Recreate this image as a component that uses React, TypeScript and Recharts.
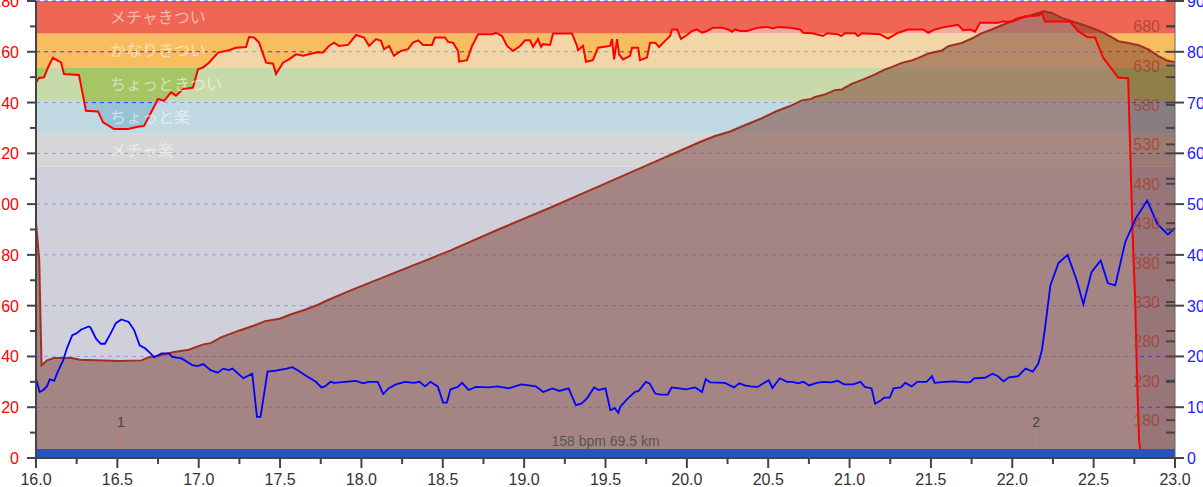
import React from 'react';
import { ComposedChart, Area, Line, XAxis, YAxis, CartesianGrid, ReferenceArea, ReferenceLine } from 'recharts';

// heart rate (bpm) against distance (km)
const hrKm = [
  16.0, 16.018, 16.049, 16.074, 16.104, 16.135, 16.154, 16.172, 16.264, 16.307, 16.381, 16.412, 16.479, 16.565,
  16.627, 16.664, 16.707, 16.75, 16.787, 16.83, 16.86, 16.904, 16.965, 16.996, 17.026, 17.063, 17.119, 17.186,
  17.229, 17.291, 17.309, 17.34, 17.371, 17.414, 17.457, 17.475, 17.518, 17.555, 17.598, 17.641, 17.721, 17.764,
  17.801, 17.832, 17.862, 17.918, 17.967, 18.016, 18.047, 18.09, 18.12, 18.139, 18.17, 18.2, 18.243, 18.286,
  18.317, 18.348, 18.379, 18.434, 18.452, 18.514, 18.532, 18.563, 18.594, 18.6, 18.649, 18.68, 18.717, 18.803,
  18.827, 18.864, 18.895, 18.932, 18.975, 19.006, 19.036, 19.055, 19.085, 19.104, 19.116, 19.159, 19.178, 19.294,
  19.325, 19.331, 19.362, 19.38, 19.423, 19.454, 19.528, 19.54, 19.553, 19.571, 19.583, 19.608, 19.651, 19.663,
  19.7, 19.712, 19.755, 19.774, 19.805, 19.829, 19.866, 19.897, 19.909, 19.94, 19.964, 20.001, 20.032, 20.063,
  20.093, 20.124, 20.161, 20.216, 20.253, 20.278, 20.296, 20.327, 20.37, 20.438, 20.493, 20.53, 20.56, 20.634,
  20.696, 20.714, 20.77, 20.837, 20.862, 20.929, 20.948, 20.972, 21.034, 21.052, 21.077, 21.187, 21.237, 21.298,
  21.36, 21.452, 21.483, 21.525, 21.587, 21.667, 21.698, 21.741, 21.771, 21.802, 21.913, 21.943, 21.974, 22.005,
  22.079, 22.159, 22.183, 22.201, 22.355, 22.404, 22.46, 22.509, 22.558, 22.65, 22.712, 22.724, 22.736, 22.743,
  22.755, 22.767, 22.779, 22.792,
];
const hrBpm = [
  147.9, 149.7, 149.9, 153.8, 157.7, 156.4, 155.8, 151.2, 150.9, 136.8, 136.5, 132.2, 129.6, 129.6,
  130.5, 130.8, 136.1, 141.4, 140.7, 144, 142.7, 145.3, 145.9, 153.1, 153.8, 155.7, 159.7, 160.6,
  161.6, 161.9, 165.8, 165.6, 163.6, 155.7, 155.3, 151.2, 155.7, 157, 159, 158.4, 159.7, 159.7,
  162.3, 163.6, 162.3, 162.7, 166.6, 165.6, 162.3, 165, 164.3, 161, 162.3, 158.4, 160.3, 161,
  163.6, 164.5, 162.7, 162.7, 165.6, 165.6, 163.9, 163.6, 160.3, 156.1, 156.7, 162.3, 166.9, 166.9,
  167.5, 166.2, 162.3, 160.3, 162.3, 164.5, 164.5, 161.9, 165, 161.9, 163, 162.7, 167.2, 167.2,
  162.3, 160.6, 162.3, 156.1, 156.7, 161.6, 162.3, 165, 157, 165, 159, 157, 158.4, 161.6,
  161.6, 156.7, 157.7, 163.6, 163.6, 161.9, 164.3, 166.2, 168.8, 168.8, 165, 166.6, 168.2, 168.8,
  167.5, 168.2, 169.5, 169.5, 168.8, 167.9, 168.8, 168.2, 168.2, 169.5, 169.8, 169.2, 169.8, 169.5,
  168.8, 167.5, 167.3, 166.2, 167.3, 166.9, 166.2, 167.3, 167.3, 166.2, 167.3, 166.9, 165.2, 167.5,
  168.8, 168.8, 167.5, 168.8, 169.8, 170.6, 168.5, 168.8, 167.9, 171.4, 171.4, 172, 171.7, 172,
  174, 174.3, 175, 171.9, 171.9, 168.2, 165.8, 165.6, 157.7, 149.9, 149.6, 123, 95.5, 81.7,
  62, 30.7, 7, 0,
];

// elevation (m)
const eleKm = [
  16.0, 16.02, 16.029, 16.034, 16.068, 16.111, 16.221, 16.268, 16.514, 16.648, 16.693, 16.76, 16.849, 16.939,
  17.028, 17.073, 17.14, 17.251, 17.341, 17.408, 17.497, 17.564, 17.653, 17.721, 17.788, 17.93, 18.237, 18.545,
  18.852, 19.159, 19.466, 19.774, 20.081, 20.173, 20.266, 20.345, 20.45, 20.554, 20.634, 20.706, 20.757, 20.788,
  20.849, 20.91, 20.952, 21.013, 21.085, 21.157, 21.218, 21.259, 21.321, 21.382, 21.423, 21.484, 21.567, 21.607,
  21.69, 21.751, 21.802, 21.874, 21.935, 21.997, 22.037, 22.099, 22.14, 22.191, 22.243, 22.304, 22.366, 22.427,
  22.489, 22.55, 22.611, 22.652, 22.714, 22.775, 22.837, 22.898, 22.95, 23.0,
];
const eleM = [
  430, 383, 294, 249.6, 255.9, 258.8, 258.8, 256.8, 255.1, 255.9, 260, 262.2, 266.4, 269.5,
  276.2, 277.8, 285.4, 293.9, 300.2, 305.7, 308.7, 314.1, 320.1, 325.5, 331.9, 344.5, 369.8, 395.1,
  423, 449.6, 477.4, 505.3, 533.1, 540.7, 546.4, 553.4, 562.2, 572.4, 578.7, 585.9, 587.2, 590.1,
  593.5, 598.9, 599.8, 606.9, 612.5, 618.8, 625.1, 628.1, 633.5, 636.5, 639.9, 645.4, 649.2, 654.6,
  658.8, 664.4, 670.2, 675.8, 681.2, 686.3, 690.5, 692.6, 695.5, 698.9, 696.8, 690.5, 686.3, 682.1,
  677.8, 672.7, 666, 661, 658.8, 655.9, 650.5, 642, 636.5, 634.4,
];

// speed (km/h)
const spdKm = [
  16.0, 16.022, 16.045, 16.067, 16.085, 16.112, 16.134, 16.168, 16.19, 16.223, 16.246, 16.279, 16.324, 16.335,
  16.369, 16.398, 16.424, 16.458, 16.492, 16.525, 16.57, 16.603, 16.637, 16.67, 16.704, 16.726, 16.771, 16.816,
  16.838, 16.894, 16.961, 16.994, 17.028, 17.073, 17.117, 17.151, 17.184, 17.207, 17.274, 17.329, 17.358, 17.38,
  17.423, 17.474, 17.541, 17.575, 17.608, 17.664, 17.72, 17.754, 17.776, 17.81, 17.832, 17.899, 17.966, 18.011,
  18.044, 18.1, 18.134, 18.167, 18.212, 18.268, 18.323, 18.357, 18.391, 18.424, 18.469, 18.502, 18.525, 18.547,
  18.592, 18.618, 18.659, 18.703, 18.782, 18.837, 18.905, 18.983, 19.072, 19.117, 19.173, 19.217, 19.273, 19.318,
  19.352, 19.385, 19.43, 19.458, 19.5, 19.53, 19.557, 19.579, 19.591, 19.636, 19.68, 19.703, 19.748, 19.771,
  19.805, 19.838, 19.883, 19.906, 19.951, 19.996, 20.052, 20.093, 20.116, 20.143, 20.233, 20.289, 20.323, 20.356,
  20.39, 20.436, 20.47, 20.503, 20.526, 20.571, 20.616, 20.65, 20.683, 20.717, 20.751, 20.797, 20.841, 20.886,
  20.927, 20.966, 21.022, 21.067, 21.094, 21.135, 21.157, 21.191, 21.213, 21.247, 21.27, 21.315, 21.342, 21.382,
  21.416, 21.473, 21.507, 21.522, 21.585, 21.642, 21.72, 21.743, 21.765, 21.833, 21.878, 21.912, 21.946, 21.98,
  22.036, 22.081, 22.126, 22.16, 22.182, 22.205, 22.234, 22.284, 22.34, 22.396, 22.437, 22.487, 22.543, 22.588,
  22.633, 22.694, 22.757, 22.829, 22.892, 22.956, 23.0,
];
const spdKmh = [
  15.7, 13, 13.4, 14.1, 15.5, 15.2, 17, 19.3, 21.6, 24.2, 24.5, 25.3, 25.9, 25.7,
  23.5, 22.5, 22.5, 24.5, 26.6, 27.3, 26.8, 25.2, 22.2, 21.6, 20.6, 19.8, 20.6, 20.6,
  19.9, 19.6, 18.3, 18.1, 18.5, 17.3, 16.8, 17.6, 17.3, 17.6, 15.7, 16.6, 8.1, 8.1,
  17, 17.2, 17.6, 17.9, 17.3, 16.1, 15, 13.9, 14.1, 15, 14.8, 15, 15.2, 14.7,
  15, 15, 12.6, 13.7, 14.5, 15, 14.8, 15, 14.1, 15, 14.1, 10.9, 10.9, 13.5,
  14, 14.8, 13.4, 14, 13.9, 14.1, 13.7, 14.5, 14.1, 13, 13.7, 13.2, 13.7, 10.4,
  10.7, 11.7, 13.9, 13.4, 13.7, 9.4, 9.8, 8.9, 10.1, 11.7, 13, 13.2, 15, 14.7,
  12.7, 12.5, 12.5, 13.9, 13.7, 13.5, 13.9, 13, 15.5, 14.9, 14.8, 13.9, 14.7, 14.3,
  14.1, 14, 14.7, 15.3, 13.8, 15.7, 15, 15, 14.7, 15, 14.3, 14.8, 15, 14.9,
  15.2, 14.5, 14.5, 15, 14, 13.7, 10.7, 11.3, 11.9, 11.9, 13.7, 13.9, 14.8, 14.1,
  15, 15, 16.1, 14.8, 15, 15.1, 14.9, 15, 15.7, 15.8, 16.6, 16.1, 15.1, 15.9,
  16.1, 17.6, 17, 18.6, 21.2, 26.5, 34, 38.4, 40, 35, 30.3, 36.6, 38.9, 34.4,
  34, 42.5, 47.1, 50.7, 46.1, 44, 45.3,
];

// heart rate zones
const zoneNames = ['メチャ楽', 'ちょっと楽', 'ちょっときつい', 'かなりきつい', 'メチャきつい'];
const zoneLow = [114.8, 127.7, 140.6, 153.9, 167.2];
const zoneHigh = [127.7, 140.6, 153.9, 167.2, 180];
const zoneColors = ['#C1BCBC', '#97C3D4', '#A6C564', '#F8BD5E', '#F06655'];

// laps
const lapKm = [16.522, 22.146];
const lapNames = ['1', '2'];
const lapColors = ['#E07070', '#A09090'];

const summaryText = '158 bpm 69.5 km';

// axis ticks
const xTicks = [
  16, 16.25, 16.5, 16.75, 17, 17.25, 17.5, 17.75, 18, 18.25, 18.5, 18.75, 19, 19.25, 19.5, 19.75,
  20, 20.25, 20.5, 20.75, 21, 21.25, 21.5, 21.75, 22, 22.25, 22.5, 22.75, 23,
];
const hrTicks = [0, 10, 20, 30, 40, 50, 60, 70, 80, 90, 100, 110, 120, 130, 140, 150, 160, 170, 180];
const gridTicks = [20, 40, 60, 80, 100, 120, 140, 160, 180];
const eleTicks = [180, 230, 280, 330, 380, 430, 480, 530, 580, 630, 680];
const spdTicks = [0, 5, 10, 15, 20, 25, 30, 35, 40, 45, 50, 55, 60, 65, 70, 75, 80, 85, 90];

const hrData = hrKm.map((km, i) => ({ km, hr: hrBpm[i] }));
const eleData = eleKm.map((km, i) => ({ km, ele: eleM[i] }));
const spdData = spdKm.map((km, i) => ({ km, spd: spdKmh[i] }));

const XTick = (props: any) => {
  const { x, y, payload } = props;
  const v = payload.value;
  const major = Math.abs(v * 2 - Math.round(v * 2)) < 1e-6;
  return (
    <g>
      <line x1={x} x2={x} y1={y} y2={y + (major ? 10 : 6)} stroke="#444" strokeWidth={2} />
      {major && (
        <text x={x} y={y + 27} textAnchor="middle" fill="#333" fontSize={16}>
          {v.toFixed(1)}
        </text>
      )}
    </g>
  );
};

const HrTick = (props: any) => {
  const { x, y, payload } = props;
  const major = payload.value % 20 === 0;
  return (
    <g>
      <line x1={x - (major ? 9 : 6)} x2={x} y1={y} y2={y} stroke="#444" strokeWidth={2} />
      {major && (
        <text x={x - 17} y={y + 6} textAnchor="end" fill="#ff0000" fontSize={16}>
          {payload.value}
        </text>
      )}
    </g>
  );
};

const EleTick = (props: any) => {
  const { x, y, payload } = props;
  return (
    <g>
      <line x1={x - 9} x2={x} y1={y} y2={y} stroke="#444" strokeWidth={2} />
      <text x={x - 15} y={y + 6} textAnchor="end" fill="#A8402F" fillOpacity={0.8} fontSize={16}>
        {payload.value}
      </text>
    </g>
  );
};

const SpdTick = (props: any) => {
  const { x, y, payload } = props;
  const major = payload.value % 10 === 0;
  return (
    <g>
      <line x1={x - 9} x2={major ? x + 9 : x} y1={y} y2={y} stroke="#444" strokeWidth={2} />
      {major && (
        <text x={x + 12} y={y + 6} textAnchor="start" fill="#2020ff" fontSize={16}>
          {payload.value}
        </text>
      )}
    </g>
  );
};

export default function App() {
  return (
    <div style={{ position: 'absolute', left: 0, top: 0, width: 1203, height: 487, background: '#fff' }}>
      <ComposedChart
        width={1203}
        height={487}
        margin={{ top: 1, right: 0, bottom: 0, left: 0 }}
        style={{ fontFamily: '"Liberation Sans", "Noto Sans CJK JP", sans-serif' }}
      >
        <XAxis
          dataKey="km"
          type="number"
          domain={[16, 23]}
          ticks={xTicks}
          interval={0}
          height={29}
          tickSize={0}
          tickMargin={0}
          tick={<XTick />}
          axisLine={{ stroke: '#444', strokeWidth: 2 }}
          tickLine={false}
        />
        <YAxis
          yAxisId="hr"
          orientation="left"
          width={36}
          domain={[0, 180]}
          ticks={hrTicks}
          interval={0}
          tickSize={0}
          tickMargin={0}
          tick={<HrTick />}
          axisLine={{ stroke: '#444', strokeWidth: 2 }}
          tickLine={false}
        />
        <YAxis
          yAxisId="elev"
          orientation="right"
          mirror
          width={1}
          domain={[132, 712]}
          ticks={eleTicks}
          interval={0}
          tickSize={0}
          tickMargin={0}
          tick={<EleTick />}
          axisLine={false}
          tickLine={false}
        />
        <YAxis
          yAxisId="spd"
          orientation="right"
          width={28}
          domain={[0, 90]}
          ticks={spdTicks}
          interval={0}
          tickSize={0}
          tickMargin={0}
          tick={<SpdTick />}
          axisLine={{ stroke: '#666', strokeWidth: 1 }}
          tickLine={false}
        />

        <ReferenceArea yAxisId="hr" y1={0} y2={zoneLow[0]} fill="#B5B0C4" fillOpacity={1} stroke="none" zIndex={-300} />
        {zoneNames.map((name, i) => (
          <ReferenceArea
            key={name}
            yAxisId="hr"
            y1={zoneLow[i]}
            y2={zoneHigh[i]}
            fill={zoneColors[i]}
            fillOpacity={1}
            stroke="none"
            zIndex={-200}
            label={{ value: name, position: 'insideLeft', offset: 74, fill: 'rgba(255,255,255,0.55)', fontSize: 16 }}
          />
        ))}

        <CartesianGrid
          yAxisId="hr"
          vertical={false}
          horizontalValues={gridTicks}
          stroke="#3344ff"
          strokeDasharray="4 4"
        />

        <Area
          yAxisId="hr"
          data={hrData}
          dataKey="hr"
          type="linear"
          stroke="none"
          fill="#EBF0F0"
          fillOpacity={0.5}
          isAnimationActive={false}
          dot={false}
          activeDot={false}
        />
        <Area
          yAxisId="elev"
          data={eleData}
          dataKey="ele"
          type="linear"
          stroke="#A0301E"
          strokeWidth={2}
          fill="#7A3A2E"
          fillOpacity={0.5}
          isAnimationActive={false}
          dot={false}
          activeDot={false}
        />
        <Line
          yAxisId="hr"
          data={hrData}
          dataKey="hr"
          type="linear"
          stroke="#ff0000"
          strokeWidth={2}
          dot={false}
          activeDot={false}
          isAnimationActive={false}
        />
        <Line
          yAxisId="spd"
          data={spdData}
          dataKey="spd"
          type="linear"
          stroke="#0000ff"
          strokeWidth={1.8}
          dot={false}
          activeDot={false}
          isAnimationActive={false}
        />

        <ReferenceArea
          yAxisId="hr"
          y1={0}
          y2={3.5}
          fill="#2454C0"
          fillOpacity={1}
          stroke="none"
          zIndex={450}
          label={{ value: summaryText, position: 'top', offset: 3, fill: '#555', fontSize: 14 }}
        />
        {lapKm.map((km, i) => (
          <ReferenceLine
            key={lapNames[i]}
            yAxisId="hr"
            segment={[{ x: km, y: 10 }, { x: km, y: 3.5 }]}
            stroke={lapColors[i]}
            strokeWidth={1}
            zIndex={460}
            label={{ value: lapNames[i], position: 'top', offset: 6, fill: '#444', fontSize: 14 }}
          />
        ))}
      </ComposedChart>
    </div>
  );
}
